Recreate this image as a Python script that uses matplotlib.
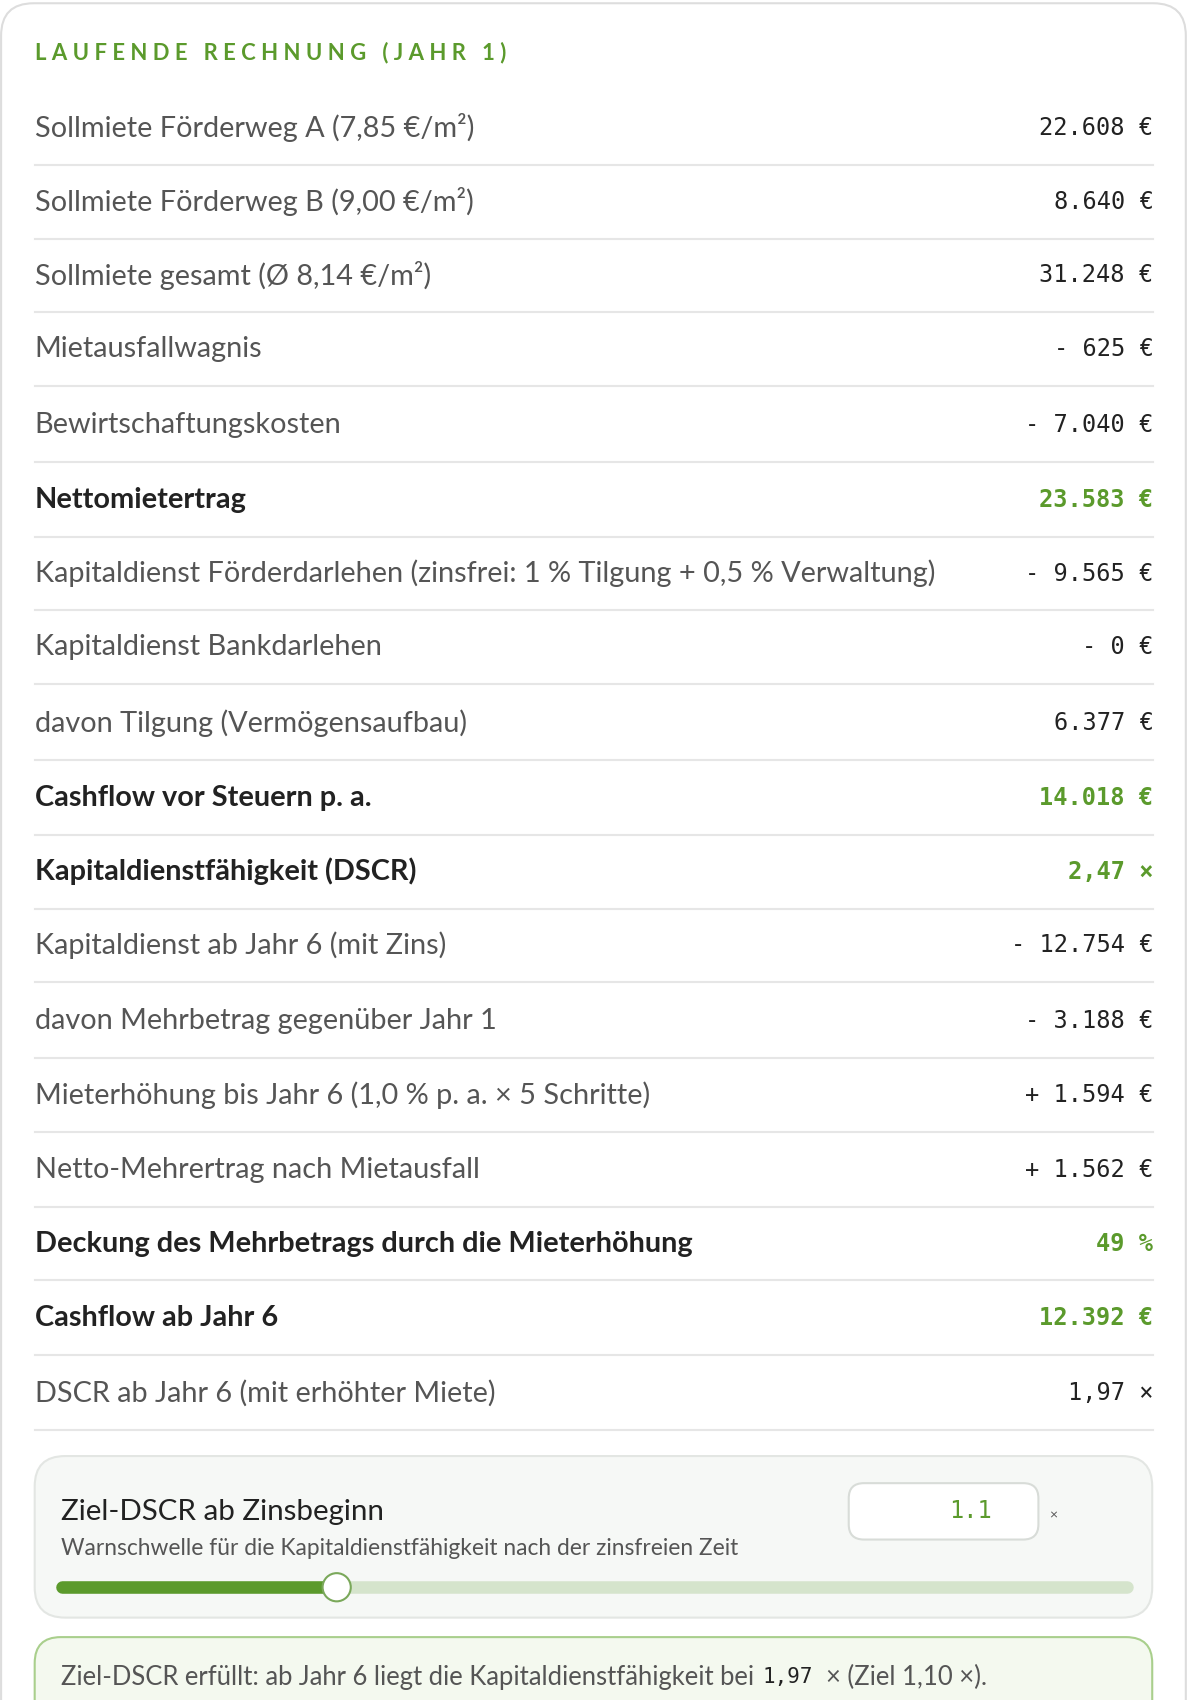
import matplotlib.pyplot as plt
from matplotlib.patches import FancyBboxPatch, Circle

labels = [
    'Sollmiete Förderweg A (7,85 €/m²)',
    'Sollmiete Förderweg B (9,00 €/m²)',
    'Sollmiete gesamt (Ø 8,14 €/m²)',
    'Mietausfallwagnis',
    'Bewirtschaftungskosten',
    'Nettomietertrag',
    'Kapitaldienst Förderdarlehen (zinsfrei: 1 % Tilgung + 0,5 % Verwaltung)',
    'Kapitaldienst Bankdarlehen',
    'davon Tilgung (Vermögensaufbau)',
    'Cashflow vor Steuern p. a.',
    'Kapitaldienstfähigkeit (DSCR)',
    'Kapitaldienst ab Jahr 6 (mit Zins)',
    'davon Mehrbetrag gegenüber Jahr 1',
    'Mieterhöhung bis Jahr 6 (1,0 % p. a. × 5 Schritte)',
    'Netto-Mehrertrag nach Mietausfall',
    'Deckung des Mehrbetrags durch die Mieterhöhung',
    'Cashflow ab Jahr 6',
    'DSCR ab Jahr 6 (mit erhöhter Miete)',
]
values = ['22.608 €', '8.640 €', '31.248 €', '- 625 €', '- 7.040 €', '23.583 €',
          '- 9.565 €', '- 0 €', '6.377 €', '14.018 €', '2,47 ×', '- 12.754 €',
          '- 3.188 €', '+ 1.594 €', '+ 1.562 €', '49 %', '12.392 €', '1,97 ×']
bold = [False, False, False, False, False, True, False, False, False, True, True,
        False, False, False, False, True, True, False]
row_y = [118, 186, 254, 322, 392, 461, 529, 597, 667, 736, 804, 872, 942, 1010,
         1079, 1147, 1216, 1285]
ziel_dscr = 1.1
slider_frac = 0.258

GREEN = '#5b9a2c'
TEXT = '#555555'
DARK = '#222222'
LINE = '#e6e6e6'
plt.rcParams['font.family'] = ['Lato', 'DejaVu Sans']

W, H = 1096, 1568
fig = plt.figure(figsize=(11.88, 17), dpi=100)
ax = fig.add_axes([0, 0, 1, 1])
ax.set_xlim(0, W)
ax.set_ylim(H, 0)
ax.axis('off')
renderer = fig.canvas.get_renderer()
px = 1188 / W  # figure px per data unit


def width_of(t):
    return t.get_window_extent(renderer).width / px


# pick label size so the longest label spans like the reference (32 -> 864)
probe = ax.text(0, 0, labels[6], fontsize=17)
fs = 17 * 832 / width_of(probe)
probe.remove()

# outer card
ax.add_patch(FancyBboxPatch((1, 3), 1093, 1640, boxstyle='round,pad=0,rounding_size=30',
                            fc='white', ec='#dddddd', lw=1.5))

title = ax.text(32, 48, ' '.join('LAUFENDE RECHNUNG (JAHR 1)'),
                color=GREEN, fontsize=13, fontweight='bold', va='center', ha='left')
title.set_fontsize(13 * 436 / width_of(title))

for lab, val, b, y in zip(labels, values, bold, row_y):
    ax.text(32, y, lab, fontsize=fs, va='center', ha='left',
            color=DARK if b else TEXT, fontweight='bold' if b else 'normal')
    ax.text(1064, y, val, fontsize=17, va='center', ha='right',
            family='DejaVu Sans Mono', color=GREEN if b else DARK,
            fontweight='bold' if b else 'normal')
    ax.plot([32, 1064], [y + 34, y + 34], color=LINE, lw=1.5)

# slider box
ax.add_patch(FancyBboxPatch((32, 1343), 1031, 149, boxstyle='round,pad=0,rounding_size=28',
                            fc='#f6f8f6', ec='#e3e6e3', lw=1.5))
ax.text(56, 1395, 'Ziel-DSCR ab Zinsbeginn', fontsize=fs * 1.02, color=DARK, va='center')
sub = ax.text(56, 1428, 'Warnschwelle für die Kapitaldienstfähigkeit nach der zinsfreien Zeit',
              fontsize=13, color=TEXT, va='center')
sub.set_fontsize(13 * 623 / width_of(sub))
ax.add_patch(FancyBboxPatch((783, 1368), 175, 52, boxstyle='round,pad=0,rounding_size=14',
                            fc='white', ec='#d8dcd8', lw=1.5))
ax.text(915, 1394, f'{ziel_dscr}', fontsize=17, family='DejaVu Sans Mono', color=GREEN,
        va='center', ha='right')
ax.text(972, 1398, '×', fontsize=10, color=TEXT, va='center', ha='center')
x0, x1 = 57, 1040
xk = x0 + slider_frac * (x1 - x0)
ax.plot([x0, x1], [1464, 1464], color='#d5e4cc', lw=9, solid_capstyle='round')
ax.plot([x0, xk], [1464, 1464], color=GREEN, lw=9, solid_capstyle='round')
ax.add_patch(Circle((xk, 1464), 13, fc='white', ec='#7aa85a', lw=1.5, zorder=5))

# status box
ax.add_patch(FancyBboxPatch((32, 1510), 1031, 120, boxstyle='round,pad=0,rounding_size=24',
                            fc='#f4f9ef', ec='#a9cf8c', lw=1.5))
s1 = ax.text(56, 1547, 'Ziel-DSCR erfüllt: ab Jahr 6 liegt die Kapitaldienstfähigkeit bei ',
             fontsize=15, color=TEXT, va='center')
s1.set_fontsize(15 * 645 / width_of(s1))
s2 = ax.text(703, 1547, '1,97', fontsize=15, family='DejaVu Sans Mono', color=DARK, va='center')
ax.text(703 + width_of(s2) + 12, 1547, '× (Ziel 1,10 ×).', fontsize=s1.get_fontsize(),
        color=TEXT, va='center')

fig.savefig('out.png', dpi=100)
